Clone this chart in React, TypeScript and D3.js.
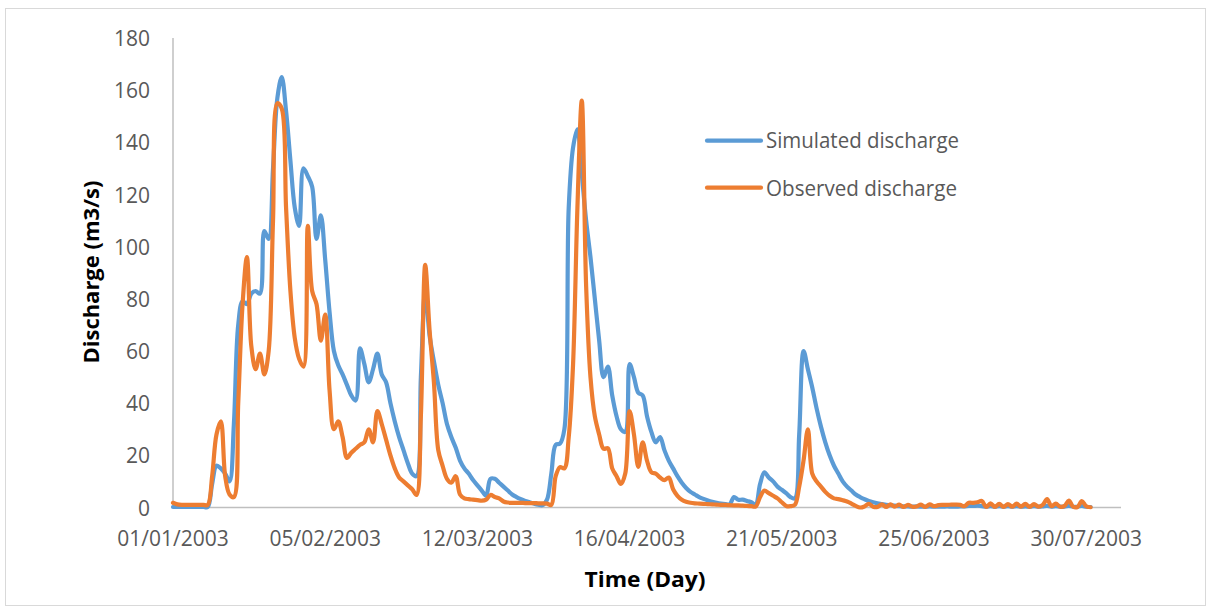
import * as d3 from "d3";

// daily values from 01/01/2003, m3/s
const simulated = [
  0.2, 0.2, 0.2, 0.2, 0.2, 0.2, 0.2, 0.2, 0.2, 9,
  16, 15, 13, 10, 32, 70, 79, 78, 82, 83,
  82, 106, 103, 130, 157, 165, 152, 133, 115, 108,
  130, 127, 123, 103, 112, 95, 75, 60, 54.5, 51,
  47, 43, 41, 61, 55, 48, 53, 59, 51, 48,
  40, 33, 27, 22, 17, 13, 12, 50, 83, 66,
  56, 47, 40, 32, 27, 23, 18, 15, 13, 10.5,
  8.5, 6.5, 4.5, 11, 11, 9.5, 8, 6.5, 5, 4,
  3.2, 2.5, 2, 1.5, 1.1, 0.9, 3, 13, 24, 24.5,
  30, 115, 138, 145, 128, 110, 96, 80, 64, 50,
  54, 43, 35, 30, 29, 55, 50, 44, 43, 35,
  29, 25, 27, 22, 18, 15, 12, 9.5, 7.5, 6,
  5, 4, 3.3, 2.7, 2.2, 1.8, 1.5, 1.3, 1.2, 4,
  3, 3, 2.5, 2, 1.2, 9, 13.5, 11.5, 10, 8,
  6.8, 5.5, 4, 3.5, 28, 60, 53, 46, 38, 31,
  25, 20, 16, 13, 10, 8, 6.5, 5, 4, 3.2,
  2.5, 2, 1.6, 1.3, 1, 0.9, 0.7, 0.5, 0.4, 0.4,
  0.3, 0.4, 0.3, 0.3, 0.4, 0.3, 0.3, 0.3, 0.4, 0.3,
  0.3, 0.4, 0.4, 0.6, 0.6, 0.7, 0.5, 0.3, 0.5, 0.3,
  0.5, 0.3, 0.5, 0.3, 0.5, 0.3, 0.4, 0.3, 0.5, 0.3,
  0.4, 0.6, 0.3, 0.5, 0.3, 0.3, 0.6, 0.3, 0.3, 0.6,
  0.3, 0.2,
];

const observed = [
  1.8, 1.2, 1, 1, 1, 1, 1, 1, 1, 12,
  28, 33, 12, 5, 4, 40, 78, 96, 62, 53,
  59, 51, 60, 110, 155, 153, 115, 83, 65, 57,
  54, 108, 83, 78, 64, 74, 45, 30, 33, 27,
  19, 21, 22.5, 24, 25, 30, 25, 37, 32, 26,
  20, 15, 11.5, 10, 8.5, 7, 4.8, 35, 93, 68,
  48, 22, 16, 11, 9.5, 12, 5, 3.5, 3.2, 3,
  2.8, 2.6, 3, 4.8, 4, 3.5, 2.3, 1.9, 1.8, 1.8,
  1.8, 1.7, 1.7, 1.7, 1.6, 1.6, 1.5, 1, 12, 15.5,
  15, 27, 55, 115, 156, 85, 50, 35, 28, 22.5,
  22.7, 15, 12, 9, 13, 37, 28, 15.6, 25, 18,
  13.5, 13, 11.5, 10.5, 11.5, 7, 4.5, 3, 2.2, 1.8,
  1.6, 1.5, 1.4, 1.3, 1.2, 1.1, 1, 1, 0.9, 0.8,
  0.8, 0.7, 0.6, 0.5, 0.4, 4, 6.5, 5.5, 4.5, 3.5,
  2, 0.6, 0.5, 1, 8, 18, 30, 13, 10, 8,
  6, 4.5, 3.5, 3.2, 2.8, 2.3, 1.5, 0.6, 0, 0.4,
  1.4, 0.3, 0.2, 1.2, 0.2, 1.2, 0.3, 1.1, 0.2, 1,
  0.3, 0.4, 1.1, 0.2, 1.2, 0.5, 0.9, 1, 1, 1.1,
  1.1, 1, 0.5, 1.8, 1.8, 2, 2.5, 0.2, 1.6, 0.2,
  1.4, 0.2, 1.3, 0.3, 1.5, 0.3, 1.4, 0.2, 1.3, 0.3,
  1, 3.2, 0.5, 1.5, 0.3, 0.6, 2.6, 0.3, 0.2, 2.5,
  0.5, 0.1,
];

const tickDates = [
  "01/01/2003", "05/02/2003", "12/03/2003", "16/04/2003",
  "21/05/2003", "25/06/2003", "30/07/2003",
];
const yTicks = [0, 20, 40, 60, 80, 100, 120, 140, 160, 180];

const width = 1212;
const height = 609;
const font = "'Open Sans', sans-serif";
const textColor = "#595959";
const blue = "#5B9BD5";
const orange = "#ED7D31";
const lineW = 4.2;

const parseDate = d3.utcParse("%d/%m/%Y");
const start = parseDate(tickDates[0]) as Date;
const axisEnd = d3.utcDay.offset(start, 218);

export default function App() {
  const x = d3.scaleUtc().domain([start, axisEnd]).range([173, 1121]);
  const y = d3.scaleLinear().domain([0, 180]).range([507.5, 38]);

  const line = d3
    .line<number>()
    .x((_, i) => x(d3.utcDay.offset(start, i)))
    .y((d) => y(d))
    .curve(d3.curveCatmullRom.alpha(0.5));

  return (
    <svg
      width={width}
      height={height}
      style={{ position: "absolute", left: 0, top: 0, background: "#fff" }}
      fontFamily={font}>
      <rect x={5.5} y={8.5} width={1200} height={597} fill="#fff" stroke="#d9d9d9" />

      {/* axes */}
      <line x1={173} x2={173} y1={38} y2={507.5} stroke="#bfbfbf" strokeWidth={1.5} />
      <line x1={173} x2={1121} y1={507.5} y2={507.5} stroke="#bfbfbf" strokeWidth={1.5} />

      {yTicks.map((t) => (
        <text key={t} x={150} y={y(t) + 8} textAnchor="end" fontSize={21} fill={textColor}>
          {t}
        </text>
      ))}

      {tickDates.map((s) => (
        <text key={s} x={x(parseDate(s) as Date)} y={546} textAnchor="middle" fontSize={21} fill={textColor}>
          {s}
        </text>
      ))}

      <path d={line(simulated) ?? ""} fill="none" stroke={blue} strokeWidth={lineW} strokeLinejoin="round" strokeLinecap="round" />
      <path d={line(observed) ?? ""} fill="none" stroke={orange} strokeWidth={lineW} strokeLinejoin="round" strokeLinecap="round" />

      {/* legend */}
      <line x1={707} x2={761} y1={140.7} y2={140.7} stroke={blue} strokeWidth={lineW} strokeLinecap="round" />
      <text x={766} y={148} fontSize={21} fill={textColor} textLength={193} lengthAdjust="spacingAndGlyphs">
        Simulated discharge
      </text>
      <line x1={707} x2={761} y1={187.7} y2={187.7} stroke={orange} strokeWidth={lineW} strokeLinecap="round" />
      <text x={766} y={196} fontSize={21} fill={textColor} textLength={191} lengthAdjust="spacingAndGlyphs">
        Observed discharge
      </text>

      {/* axis titles */}
      <text
        transform="translate(99,272) rotate(-90)"
        textAnchor="middle"
        fontSize={22}
        fontWeight="bold"
        fill="#000"
        textLength={183}
        lengthAdjust="spacingAndGlyphs">
        Discharge (m3/s)
      </text>
      <text
        x={645}
        y={587}
        textAnchor="middle"
        fontSize={22}
        fontWeight="bold"
        fill="#000"
        textLength={121}
        lengthAdjust="spacingAndGlyphs">
        Time (Day)
      </text>
    </svg>
  );
}
